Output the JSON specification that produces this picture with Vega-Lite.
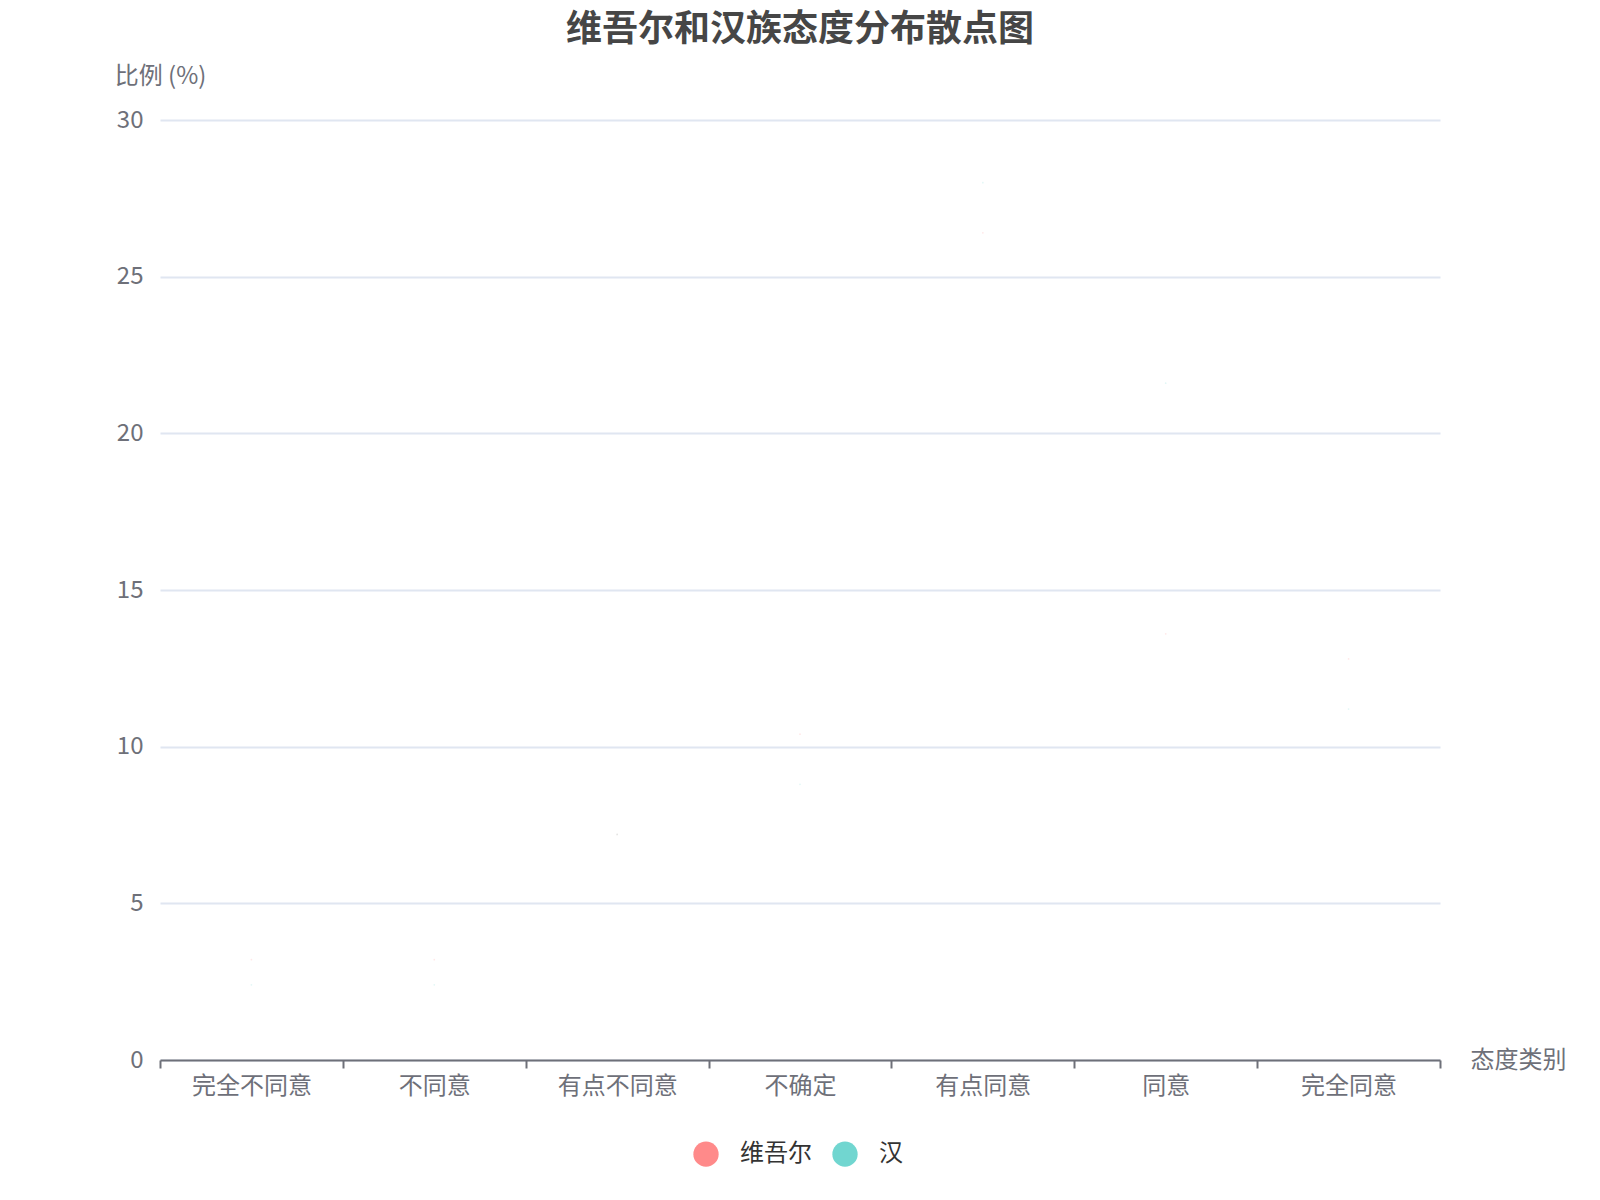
{
  "$schema": "https://vega.github.io/schema/vega-lite/v6.json",
  "autosize": {"type": "none"},
  "width": 1280,
  "height": 940,
  "padding": {"left": 160, "top": 120, "right": 160, "bottom": 140},
  "background": "#ffffff",
  "title": {
    "text": "维吾尔和汉族态度分布散点图",
    "fontSize": 36,
    "fontWeight": "bold",
    "color": "#464646",
    "font": "Noto Sans CJK SC",
    "anchor": "middle",
    "frame": "group",
    "offset": 15
  },
  "data": {
    "values": [
      {"category": "完全不同意", "group": "维吾尔", "value": 3.2},
      {"category": "完全不同意", "group": "汉", "value": 2.4},
      {"category": "不同意", "group": "维吾尔", "value": 3.2},
      {"category": "不同意", "group": "汉", "value": 2.4},
      {"category": "有点不同意", "group": "维吾尔", "value": 7.2},
      {"category": "有点不同意", "group": "汉", "value": 7.2},
      {"category": "不确定", "group": "维吾尔", "value": 10.4},
      {"category": "不确定", "group": "汉", "value": 8.8},
      {"category": "有点同意", "group": "维吾尔", "value": 26.4},
      {"category": "有点同意", "group": "汉", "value": 28.0},
      {"category": "同意", "group": "维吾尔", "value": 13.6},
      {"category": "同意", "group": "汉", "value": 21.6},
      {"category": "完全同意", "group": "维吾尔", "value": 12.8},
      {"category": "完全同意", "group": "汉", "value": 11.2}
    ]
  },
  "mark": {"type": "point", "filled": true, "shape": "circle", "size": 3, "opacity": 0.2},
  "encoding": {
    "x": {
      "field": "category",
      "type": "nominal",
      "bandPosition": 0.5,
      "sort": ["完全不同意", "不同意", "有点不同意", "不确定", "有点同意", "同意", "完全同意"],
      "scale": {"type": "band", "paddingInner": 0, "paddingOuter": 0},
      "axis": {
        "title": "态度类别",
        "titleFont": "Noto Sans CJK SC",
        "titleFontSize": 24,
        "titleFontWeight": "normal",
        "titleColor": "#6E7079",
        "titleAnchor": "start",
        "titleAlign": "left",
        "titleBaseline": "middle",
        "titleX": 1310,
        "titleY": 0,
        "labelAngle": 0,
        "labelFont": "Noto Sans CJK SC",
        "labelFontSize": 24,
        "labelColor": "#6E7079",
        "labelPadding": 6,
        "tickBand": "extent",
        "ticks": true,
        "tickSize": 8,
        "tickWidth": 2,
        "tickColor": "#6E7079",
        "domainColor": "#6E7079",
        "domainWidth": 2,
        "grid": false
      }
    },
    "y": {
      "field": "value",
      "type": "quantitative",
      "scale": {"domain": [0, 30], "nice": false, "zero": true},
      "axis": {
        "title": "比例 (%)",
        "titleFont": "Noto Sans CJK SC",
        "titleFontSize": 24,
        "titleFontWeight": "normal",
        "titleColor": "#6E7079",
        "titleAngle": 0,
        "titleAlign": "center",
        "titleBaseline": "middle",
        "titleX": 0,
        "titleY": -44,
        "values": [0, 5, 10, 15, 20, 25, 30],
        "labelFont": "Noto Sans CJK SC",
        "labelFontSize": 24,
        "labelColor": "#6E7079",
        "labelPadding": 17,
        "ticks": false,
        "domain": false,
        "grid": true,
        "gridColor": "#E0E6F1",
        "gridWidth": 2
      }
    },
    "color": {
      "field": "group",
      "type": "nominal",
      "scale": {"domain": ["维吾尔", "汉"], "range": ["#FF8A8A", "#71D6D0"]},
      "legend": {
        "title": null,
        "orient": "none",
        "direction": "horizontal",
        "legendX": 533,
        "legendY": 1021,
        "symbolType": "circle",
        "symbolSize": 640,
        "symbolOpacity": 1,
        "symbolStrokeWidth": 0,
        "labelFont": "Noto Sans CJK SC",
        "labelFontSize": 24,
        "labelColor": "#333333",
        "labelOffset": 21,
        "columnPadding": 20
      }
    }
  },
  "config": {
    "view": {"stroke": null},
    "font": "Noto Sans CJK SC"
  }
}
